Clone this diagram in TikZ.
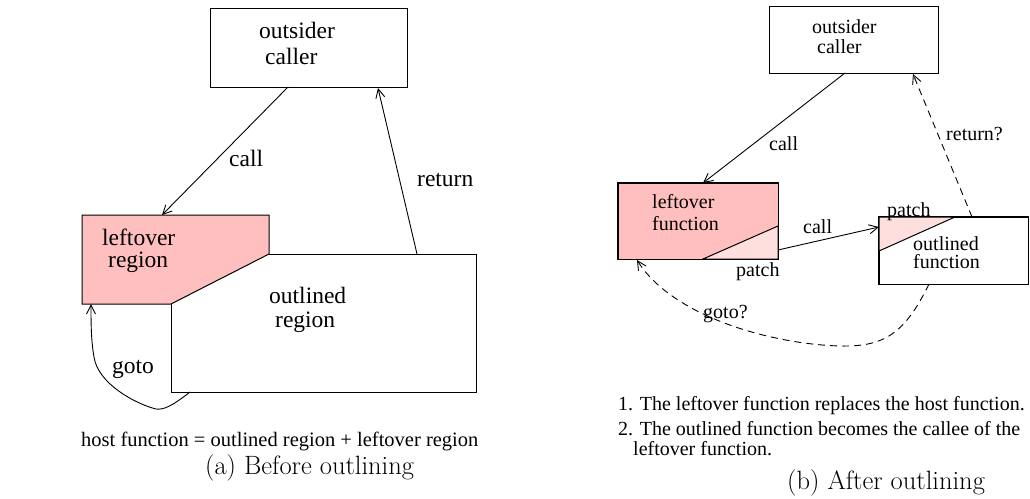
\documentclass[tikz,border=0pt]{standalone}
\usepackage{fontspec}
\setmainfont{Liberation Serif}
\newfontfamily\lmr{Latin Modern Roman}
\usetikzlibrary{arrows.meta}

\definecolor{lopink}{RGB}{255,191,191}
\definecolor{patchpink}{RGB}{255,222,222}

\tikzset{
  boxnode/.style={draw, line width=1pt, inner sep=0pt},
  bigtxt/.style={inner sep=0pt, anchor=base west, font=\fontsize{23.5}{27}\selectfont},
  smalltxt/.style={inner sep=0pt, anchor=base west, font=\fontsize{20}{24}\selectfont},
  captxt/.style={inner sep=0pt, anchor=base west, font=\lmr\fontsize{26.5}{30}\selectfont},
  arr/.style={line width=0.9pt, -{Straight Barb[length=9pt,width=9pt,line width=0.9pt]}},
  dasharr/.style={arr, dash pattern=on 7pt off 5pt},
}

\begin{document}
\begin{tikzpicture}[x=1pt,y=-1pt]
\useasboundingbox (0,0) rectangle (1030,498);

% ---------- (a) before outlining ----------
\node[boxnode, minimum width=197pt, minimum height=79pt] (oca) at (308.5,47.5) {};
\node[bigtxt] (oca1) at (259,38) {outsider};
\node[bigtxt] (oca2) at (265,64) {caller};

% leftover region and outlined region
\filldraw[fill=lopink, line width=1pt, line join=miter]
  (82,215) -- (269,215) -- (269,254) -- (171,304) -- (82,304) -- cycle;
\draw[line width=1pt] (269,254) -- (476,254) -- (476,392) -- (171,392) -- (171,304);
\node[bigtxt] (lr1) at (102,245) {leftover};
\node[bigtxt] (lr2) at (108,267) {region};
\node[bigtxt] (or1) at (269,303) {outlined};
\node[bigtxt] (or2) at (275,327) {region};

\coordinate (ocaS) at (288,87);
\coordinate (ocaR) at (378,88);
\coordinate (lrT) at (162,215);
\coordinate (lrB) at (91,304);
\coordinate (orT) at (417,254);
\coordinate (orB) at (190,392);

\draw[arr] (ocaS) -- (lrT);
\node[bigtxt] (calla) at (229,166) {call};
\draw[arr] (orT) -- (ocaR);
\node[bigtxt] (reta) at (417,186) {return};
\draw[arr] (orB) .. controls (172,406) and (164,410) .. (156,409)
  .. controls (136,404) and (98,384) .. (94,357)
  .. controls (91,340) and (91,322) .. (lrB);
\node[bigtxt] (gotoa) at (112,373) {goto};

\node[inner sep=0pt, anchor=base west, font=\fontsize{20.5}{24}\selectfont] (hostf)
  at (81,446) {host function = outlined region + leftover region};
\node[captxt] (capa) at (205,474) {(a) Before outlining};

% ---------- (b) after outlining ----------
\node[boxnode, minimum width=169pt, minimum height=67pt] (ocb) at (853.5,39.5) {};
\node[smalltxt] (ocb1) at (812,33) {outsider};
\node[smalltxt] (ocb2) at (817,53) {caller};

\node[boxnode, fill=lopink, minimum width=160pt, minimum height=76pt] (lf) at (698,221) {};
\filldraw[fill=patchpink, line width=1pt] (703,259) -- (778,226) -- (778,259) -- cycle;
\draw[line width=1pt] (lf.south west) rectangle (lf.north east);
\node[smalltxt] (lf1) at (652,208) {leftover};
\node[smalltxt] (lf2) at (652,230) {function};
\node[smalltxt] (lfp) at (736,276) {patch};

\node[boxnode, minimum width=149pt, minimum height=67pt] (ofn) at (953.5,250.5) {};
\filldraw[fill=patchpink, line width=1pt] (879,217) -- (955,217) -- (879,251) -- cycle;
\draw[line width=1pt] (ofn.south west) rectangle (ofn.north east);
\node[smalltxt] (ofp) at (887,216) {patch};
\node[smalltxt] (of1) at (913,250) {outlined};
\node[smalltxt] (of2) at (913,268) {function};

\coordinate (ocbS) at (845,73);
\coordinate (ocbR) at (913,74);
\coordinate (lfT) at (703,183);
\coordinate (lfR) at (778,250);
\coordinate (lfB) at (637,260);
\coordinate (ofL) at (879,227);
\coordinate (ofT) at (972,217);
\coordinate (ofB) at (929,284);

\draw[arr] (ocbS) -- (lfT);
\node[smalltxt] (callb) at (769,150) {call};
\draw[dasharr] (ofT) -- (ocbR);
\node[smalltxt] (retb) at (946,140) {return?};
\draw[arr] (lfR) -- (ofL);
\node[smalltxt] (callc) at (803,233) {call};
\draw[dasharr] (ofB) .. controls (905,333) and (885,347) .. (840,346)
  .. controls (770,344) and (672,316) .. (lfB);
\node[smalltxt] (gotob) at (703,318) {goto?};

\node[smalltxt] (n1) at (618,410) {1. The leftover function replaces the host function.};
\node[smalltxt] (n2) at (618,435) {2. The outlined function becomes the callee of the};
\node[smalltxt] (n3) at (633,455) {leftover function.};
\node[captxt] (capb) at (787,489) {(b) After outlining};
\end{tikzpicture}
\end{document}
